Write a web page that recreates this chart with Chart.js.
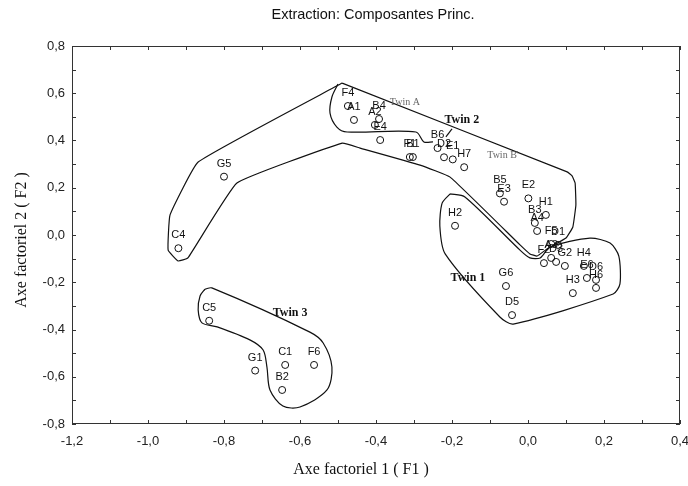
<!DOCTYPE html>
<html><head><meta charset="utf-8">
<script src="https://cdn.jsdelivr.net/npm/chart.js@4/dist/chart.umd.min.js"></script>
<style>html,body{margin:0;padding:0;background:#fff}canvas{display:block}</style>
</head><body>
<canvas id="c" width="688" height="486"></canvas>
<script>
// ---- data ----
const pointNames = ['G5','C4','C5','G1','C1','B2','F6','F4','A1','B4','A2','E4','F1','B1','B6','D2','E1','H7','B5','E3','E2','H1','B3','A4','F5','D1','F2','A3','D3','G2','H4','E6','D6','H6','H3','G6','D5','H2'];
const f1Values = [-0.800,-0.920,-0.839,-0.718,-0.639,-0.647,-0.563,-0.474,-0.458,-0.392,-0.403,-0.389,-0.311,-0.303,-0.238,-0.221,-0.198,-0.168,-0.074,-0.063,0.001,0.047,0.018,0.024,0.061,0.079,0.042,0.061,0.074,0.097,0.147,0.155,0.179,0.179,0.118,-0.058,-0.042,-0.192];
const f2Values = [0.247,-0.056,-0.363,-0.574,-0.550,-0.656,-0.550,0.546,0.487,0.491,0.466,0.402,0.330,0.330,0.368,0.329,0.320,0.287,0.176,0.141,0.155,0.085,0.051,0.017,-0.038,-0.042,-0.119,-0.097,-0.114,-0.131,-0.131,-0.182,-0.190,-0.224,-0.246,-0.216,-0.339,0.039];

// group outlines (drawn in axis units)
const twin2HullX = [-0.489,0.103,0.116,0.124,0.126,0.118,0.100,0.050,0.024,0.005,-0.021,-0.205,-0.284,-0.442,-0.489,-0.766,-0.895,-0.921,-0.947,-0.942,-0.868,-0.489];
const twin2HullY = [0.643,0.267,0.250,0.220,0.127,0.034,-0.013,-0.059,-0.089,-0.080,-0.042,0.245,0.296,0.368,0.389,0.220,-0.097,-0.110,-0.064,0.085,0.309,0.643];
const twinALobeX = [-0.500,-0.516,-0.521,-0.503,-0.476,-0.295,-0.274,-0.250];
const twinALobeY = [0.639,0.584,0.516,0.457,0.436,0.436,0.394,0.394];
const twin2PointerX = [-0.216,-0.200];
const twin2PointerY = [0.415,0.449];
const twin1HullX = [-0.205,-0.166,-0.021,0.005,0.032,0.058,0.163,0.216,0.239,0.242,0.224,-0.039,-0.074,-0.218,-0.232,-0.226,-0.205];
const twin1HullY = [0.174,0.161,-0.064,-0.097,-0.097,-0.051,-0.013,-0.034,-0.089,-0.207,-0.250,-0.377,-0.347,-0.080,0.038,0.135,0.174];
const twin3HullX = [-0.850,-0.863,-0.868,-0.858,-0.818,-0.732,-0.697,-0.687,-0.679,-0.645,-0.600,-0.529,-0.516,-0.539,-0.574,-0.832,-0.850];
const twin3HullY = [-0.229,-0.258,-0.317,-0.372,-0.389,-0.444,-0.487,-0.559,-0.656,-0.724,-0.728,-0.656,-0.559,-0.457,-0.411,-0.224,-0.229];

// group names
const groupNames = ['Twin 1','Twin 2','Twin 3','Twin A',"Twin B'"];
const groupX = [-0.158,-0.174,-0.626,-0.324,-0.066];
const groupY = [-0.182,0.487,-0.330,0.563,0.339];

const chartTitle = 'Extraction: Composantes Princ.';
const xTitle = 'Axe factoriel 1 ( F1 )';
const yTitle = 'Axe factoriel 2 ( F2 )';

// ---- helpers ----
const toXY = (xs, ys) => xs.map((x, i) => ({x, y: ys[i]}));
const fmt = v => { const r = Math.round(v * 10) / 10; return (Math.abs(r) < 1e-9 ? 0 : r).toFixed(1).replace('.', ','); };
const outline = (xs, ys, tension) => ({
  type: 'line', data: toXY(xs, ys), borderColor: '#111', borderWidth: 1.2,
  pointRadius: 0, fill: false, tension: tension, showLine: true, order: 2
});

const decor = {
  id: 'decor',
  afterDatasetsDraw(chart) {
    const ctx = chart.ctx, a = chart.chartArea;
    const xs = chart.scales.x, ys = chart.scales.y;
    ctx.save();
    // frame
    ctx.strokeStyle = '#333'; ctx.lineWidth = 1;
    ctx.strokeRect(a.left + 0.5, a.top + 0.5, a.right - a.left - 1, a.bottom - a.top - 1);
    // inward ticks every 0.1
    ctx.beginPath();
    for (let k = -12; k <= 4; k++) {
      const px = Math.round(xs.getPixelForValue(k / 10)) + 0.5;
      ctx.moveTo(px, a.bottom); ctx.lineTo(px, a.bottom - 4);
      ctx.moveTo(px, a.top); ctx.lineTo(px, a.top + 4);
    }
    for (let k = -8; k <= 8; k++) {
      const py = Math.round(ys.getPixelForValue(k / 10)) + 0.5;
      ctx.moveTo(a.left, py); ctx.lineTo(a.left + 4, py);
      ctx.moveTo(a.right, py); ctx.lineTo(a.right - 4, py);
    }
    ctx.stroke();
    // point labels
    const meta = chart.getDatasetMeta(0);
    ctx.fillStyle = '#111';
    ctx.font = '11px "Liberation Sans", Arial, sans-serif';
    ctx.textAlign = 'center'; ctx.textBaseline = 'middle';
    meta.data.forEach((el, i) => { ctx.fillText(pointNames[i], el.x, el.y - 13); });
    // group names
    groupNames.forEach((t, i) => {
      const px = xs.getPixelForValue(groupX[i]), py = ys.getPixelForValue(groupY[i]);
      if (i < 3) { ctx.font = 'bold 12px "Liberation Serif", "Times New Roman", serif'; ctx.fillStyle = '#111'; }
      else { ctx.font = '10px "Liberation Serif", "Times New Roman", serif'; ctx.fillStyle = '#666'; }
      ctx.fillText(t, px, py);
    });
    // titles
    ctx.fillStyle = '#111';
    ctx.font = '14.5px "Liberation Sans", Arial, sans-serif';
    ctx.fillText(chartTitle, 373, 15);
    ctx.font = '16px "Liberation Serif", "Times New Roman", serif';
    ctx.fillText(xTitle, 361, 470);
    ctx.translate(22, 240); ctx.rotate(-Math.PI / 2);
    ctx.fillText(yTitle, 0, 0);
    ctx.restore();
  }
};

new Chart(document.getElementById('c'), {
  type: 'scatter',
  data: {
    datasets: [
      { label: 'Individus', data: toXY(f1Values, f2Values), pointStyle: 'circle', pointRadius: 3.5,
        borderColor: '#111', borderWidth: 1, backgroundColor: 'rgba(0,0,0,0)', order: 1 },
      outline(twin2HullX, twin2HullY, 0.1),
      outline(twinALobeX, twinALobeY, 0.3),
      outline(twin2PointerX, twin2PointerY, 0),
      outline(twin1HullX, twin1HullY, 0.25),
      outline(twin3HullX, twin3HullY, 0.3)
    ]
  },
  options: {
    responsive: false, animation: false, devicePixelRatio: 1,
    layout: { padding: { top: 46, right: 8, left: 0, bottom: 0 } },
    plugins: { legend: { display: false }, tooltip: { enabled: false }, title: { display: false } },
    scales: {
      x: {
        type: 'linear', min: -1.2, max: 0.4,
        ticks: { stepSize: 0.2, padding: 10, color: '#222', font: { family: '"Liberation Sans", Arial, sans-serif', size: 13 }, callback: fmt, maxRotation: 0 },
        grid: { display: false, drawTicks: false }, border: { display: false },
        afterFit: s => { s.height = 62; s.paddingLeft = 0; s.paddingRight = 0; }
      },
      y: {
        type: 'linear', min: -0.8, max: 0.8,
        ticks: { stepSize: 0.2, padding: 7, color: '#222', font: { family: '"Liberation Sans", Arial, sans-serif', size: 13 }, callback: fmt },
        grid: { display: false, drawTicks: false }, border: { display: false },
        afterFit: s => { s.width = 72; s.paddingTop = 0; s.paddingBottom = 0; }
      }
    }
  },
  plugins: [decor]
});
</script>
</body></html>
